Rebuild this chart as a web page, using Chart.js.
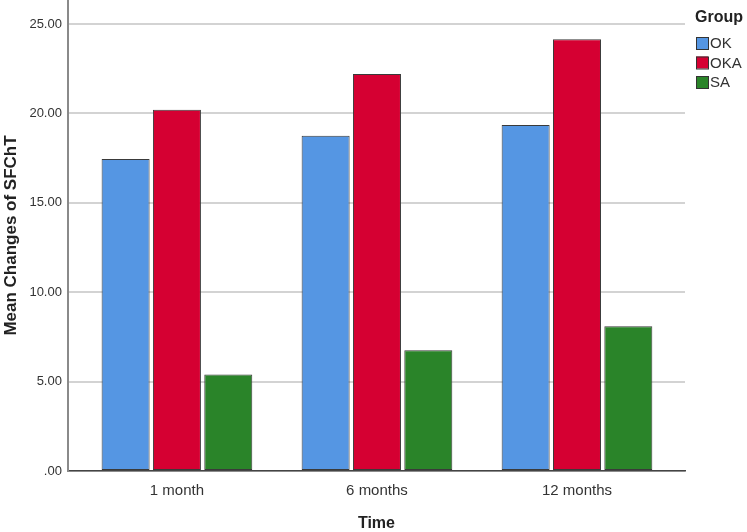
<!DOCTYPE html>
<html><head><meta charset="utf-8">
<script src="https://cdn.jsdelivr.net/npm/chart.js@4/dist/chart.umd.min.js"></script>
<style>html,body{margin:0;padding:0;background:#fff}#wrap{width:747px;height:532px}</style>
</head><body><div id="wrap"><canvas id="c"></canvas></div>
<script>
const categories = ["1 month", "6 months", "12 months"];
const seriesNames = ["OK", "OKA", "SA"];
const okValues = [17.45, 18.75, 19.35];
const okaValues = [20.2, 22.2, 24.15];
const saValues = [5.4, 6.75, 8.1];
const yTicks = [0, 5, 10, 15, 20, 25];
const legendTitle = "Group";

const FONT = "'Liberation Sans', Arial, sans-serif";
const colors = ['#5596e3', '#d50032', '#2a8429'];
const seriesValues = [okValues, okaValues, saValues];

const legendPlugin = {
  id: 'spssLegend',
  afterDraw(chart) {
    const ctx = chart.ctx;
    ctx.save();
    ctx.fillStyle = '#222';
    ctx.font = 'bold 16px ' + FONT;
    ctx.textBaseline = 'middle';
    ctx.textAlign = 'left';
    ctx.fillText(legendTitle, 695, 18);
    chart.data.datasets.forEach((ds, i) => {
      const y = 37 + i * 19.5;
      ctx.fillStyle = ds.backgroundColor;
      ctx.fillRect(696, y, 12, 12);
      ctx.strokeStyle = '#333';
      ctx.lineWidth = 1;
      ctx.strokeRect(696.5, y + 0.5, 12, 12);
      ctx.fillStyle = '#333';
      ctx.font = '15px ' + FONT;
      ctx.fillText(ds.label, 710, y + 7);
    });
    ctx.restore();
  }
};

const zeroPad = s => { s.paddingTop = 0; s.paddingLeft = 0; s.paddingRight = 0; };

new Chart(document.getElementById('c'), {
  type: 'bar',
  data: {
    datasets: seriesNames.map((name, s) => ({
      label: name,
      data: seriesValues[s].map((v, i) => ({x: i, y: v})),
      backgroundColor: colors[s],
      borderColor: '#3a3a3a', borderWidth: 1, borderSkipped: false,
      categoryPercentage: 0.77, barPercentage: 0.935
    }))
  },
  plugins: [legendPlugin],
  options: {
    responsive: true, maintainAspectRatio: false, animation: false,
    layout: {padding: {top: 0, right: 62, bottom: 0, left: 0}},
    plugins: {tooltip: {enabled: false}, legend: {display: false}},
    scales: {
      x: {
        type: 'linear', min: -0.545, max: 2.54, offset: false,
        afterBuildTicks: s => { s.ticks = categories.map((c, i) => ({value: i})); },
        afterFit: zeroPad,
        grid: {display: false, drawTicks: false, offset: false},
        border: {color: '#444', width: 1.5},
        ticks: {color: '#333', font: {family: FONT, size: 15}, padding: 11,
          callback: v => categories[v] !== undefined ? categories[v] : ''},
        title: {display: true, text: 'Time', color: '#222', font: {family: FONT, size: 16, weight: 'bold', lineHeight: 1.1}, padding: {top: 3.4, bottom: 0}}
      },
      y: {
        min: 0, max: 26.34,
        afterBuildTicks: s => { s.ticks = yTicks.map(v => ({value: v})); },
        afterFit: zeroPad,
        grid: {color: '#d3d3d3', lineWidth: 2, drawTicks: false},
        border: {color: '#8a8a8a', width: 2},
        ticks: {color: '#333', font: {family: FONT, size: 13}, padding: 6,
          callback: v => v === 0 ? '.00' : Number(v).toFixed(2)},
        title: {display: true, text: 'Mean Changes of SFChT', color: '#222', font: {family: FONT, size: 17, weight: 'bold'}, padding: {top: 1, bottom: 2}}
      }
    }
  }
});
</script></body></html>
